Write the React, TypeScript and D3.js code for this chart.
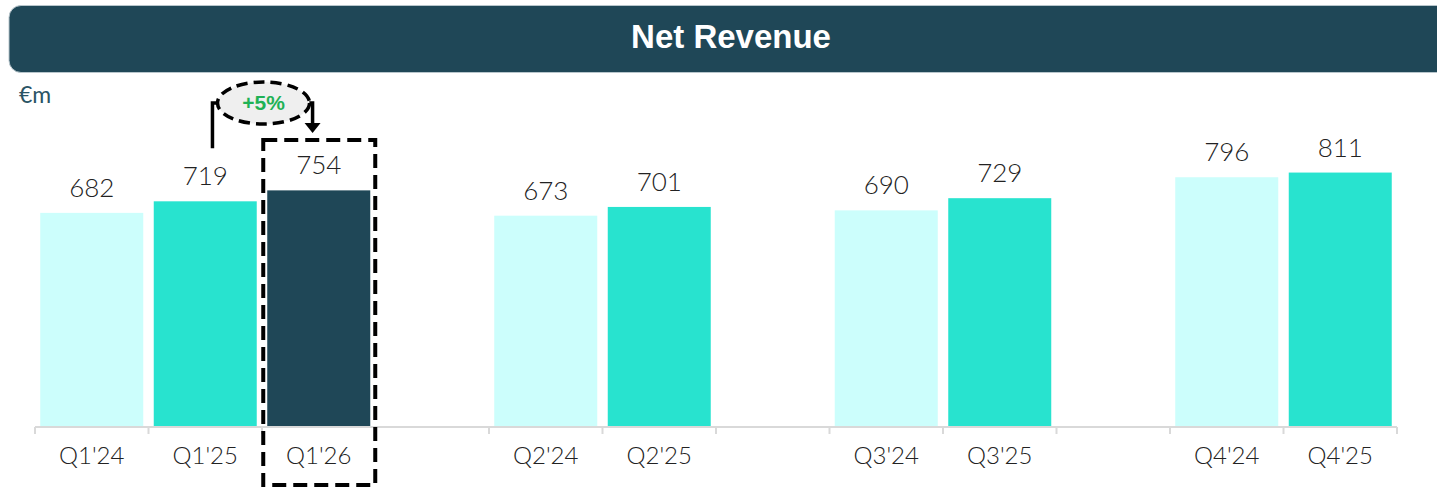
import React from "react";
import * as d3 from "d3";

const slots = ["Q1'24", "Q1'25", "Q1'26", "gap1", "Q2'24", "Q2'25", "gap2", "Q3'24", "Q3'25", "gap3", "Q4'24", "Q4'25"];
const categories = ["Q1'24", "Q1'25", "Q1'26", "Q2'24", "Q2'25", "Q3'24", "Q3'25", "Q4'24", "Q4'25"];
const values = [682, 719, 754, 673, 701, 690, 729, 796, 811];
const seriesYear = ["2024", "2025", "2026", "2024", "2025", "2024", "2025", "2024", "2025"];
const title = "Net Revenue";
const unit = "€m";
const growthLabel = "+5%";

const W = 1437;
const H = 487;
const colors: Record<string, string> = { "2024": "#ccfefc", "2025": "#28e3cf", "2026": "#1f4757" };
const dark = "#1f4757";
const FONT = "Lato, 'Noto Sans', sans-serif";

export default function App() {
  const x = d3.scaleBand<string>().domain(slots).range([35, 1397]).paddingInner(0.0925).paddingOuter(0.04625);
  const y = d3.scaleLinear().domain([0, 1000]).range([426, 113.5]);
  const step = x.step();
  const x0 = 35;
  const tickXs = d3.range(slots.length + 1).map((i) => x0 + i * step);

  const iFrom = categories.indexOf("Q1'25");
  const iTo = categories.indexOf("Q1'26");
  const fromX = (x(categories[iFrom]) as number) + x.bandwidth() * 0.57;
  const toX = (x(categories[iTo]) as number) + x.bandwidth() * 0.44;
  const fromY = y(values[iFrom]) - 53;
  const elbowY = 103;
  const ellCx = (fromX + toX) / 2 + 1;

  const boxL = (x(categories[iTo]) as number) - 4;
  const boxR = (x(categories[iTo]) as number) + x.bandwidth() + 5;

  return (
    <svg width={W} height={H} style={{ position: "absolute", left: 0, top: 0, background: "#fff" }}>
      <rect x={9} y={5.5} width={W + 20} height={67} rx={12} fill={dark} stroke="#b8c6cc" strokeWidth={1} />
      <text x={731} y={48} textAnchor="middle" fill="#fff" fontFamily="'Liberation Sans', Arial, sans-serif" fontWeight={700} fontSize={33}>
        {title}
      </text>
      <text x={19} y={103} fill="#2a5465" fontFamily={FONT} fontSize={23}>
        {unit}
      </text>

      {categories.map((c, i) => (
        <rect key={c} x={x(c)} y={y(values[i])} width={x.bandwidth()} height={y(0) - y(values[i])} fill={colors[seriesYear[i]]} />
      ))}

      <line x1={35} x2={1397} y1={427} y2={427} stroke="#d9d9d9" strokeWidth={2} />
      {tickXs.map((t, i) => (
        <line key={i} x1={t} x2={t} y1={427} y2={434} stroke="#d9d9d9" strokeWidth={2} />
      ))}

      {categories.map((c, i) => (
        <text key={c + "v"} x={(x(c) as number) + x.bandwidth() / 2} y={y(values[i]) - 16} textAnchor="middle" fill="#222" fontFamily={FONT} fontWeight={300} fontSize={26}>
          {values[i]}
        </text>
      ))}
      {categories.map((c) => (
        <text key={c + "l"} x={(x(c) as number) + x.bandwidth() / 2} y={464} textAnchor="middle" fill="#222" fontFamily={FONT} fontWeight={300} fontSize={24}>
          {c}
        </text>
      ))}

      {/* highlight box */}
      <rect x={boxL} y={140} width={boxR - boxL} height={345} fill="none" stroke="#000" strokeWidth={4} strokeDasharray="14 7" />

      {/* growth connector */}
      <path d={`M${fromX},${fromY} V${elbowY} H${toX} V${125}`} fill="none" stroke="#000" strokeWidth={3.5} />
      <path d={`M${toX - 8},${123} L${toX + 8},${123} L${toX},${133} Z`} fill="#000" />
      <ellipse cx={ellCx} cy={103} rx={46} ry={21} fill="#efefef" stroke="#000" strokeWidth={3.5} strokeDasharray="11 6" />
      <text x={ellCx} y={110} textAnchor="middle" fill="#1fb256" fontFamily="'Liberation Sans', Arial, sans-serif" fontWeight={700} fontSize={21}>
        {growthLabel}
      </text>
    </svg>
  );
}
